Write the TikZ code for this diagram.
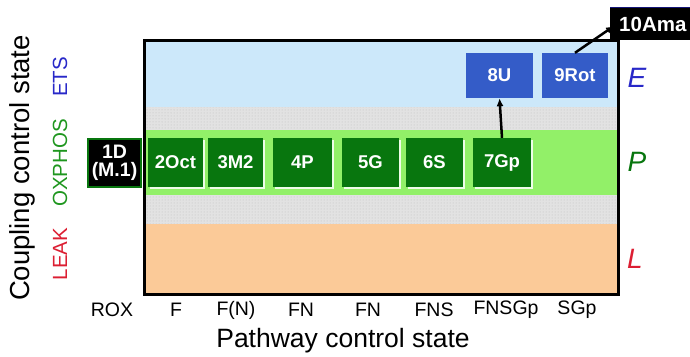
\documentclass[tikz,border=0pt]{standalone}
\usepackage{fontspec}
\setmainfont{Liberation Sans}
\usetikzlibrary{arrows.meta,shadows,patterns,calc}
\definecolor{bandblue}{RGB}{204,232,250}
\definecolor{bandgreen}{RGB}{146,240,104}
\definecolor{bandorange}{RGB}{251,202,152}
\definecolor{bandgray}{RGB}{226,226,226}
\definecolor{boxgreen}{RGB}{8,118,14}
\definecolor{boxblue}{RGB}{52,92,200}
\definecolor{etsblue}{RGB}{40,40,200}
\definecolor{oxgreen}{RGB}{30,150,30}
\definecolor{leakred}{RGB}{220,30,50}
\definecolor{navyedge}{RGB}{20,20,120}
\tikzset{
  gbox/.style={rectangle, fill=boxgreen, text=white, minimum height=49pt, inner sep=0pt,
    font=\fontsize{18.5}{18.5}\selectfont\bfseries,
    drop shadow={shadow xshift=1.5pt, shadow yshift=-1.5pt, fill=white, opacity=0.85}},
  bbox/.style={rectangle, fill=boxblue, text=white, minimum height=45pt, inner sep=0pt,
    font=\fontsize{18.5}{18.5}\selectfont\bfseries},
  blabel/.style={font=\fontsize{19.5}{19.5}\selectfont, anchor=center},
  stlabel/.style={font=\fontsize{28}{28}\selectfont\itshape, anchor=center},
  sidelabel/.style={font=\fontsize{20.5}{20.5}\selectfont, rotate=90, anchor=center},
  conn/.style={line width=2.5pt, -{Latex[length=8pt,width=7pt]}}
}
\begin{document}
\begin{tikzpicture}[x=1pt,y=-1pt]
\useasboundingbox (0,0) rectangle (690,356);
% bands
\fill[bandblue] (144,40) rectangle (618,107);
\fill[bandgray] (144,107) rectangle (618,130);
\fill[pattern=dots, pattern color=black!25] (144,107) rectangle (618,130);
\fill[bandgreen] (144,130) rectangle (618,195);
\fill[bandgray] (144,195) rectangle (618,224);
\fill[pattern=dots, pattern color=black!25] (144,195) rectangle (618,224);
\fill[bandorange] (144,224) rectangle (618,294);
\draw[line width=3pt] (144,40) rectangle (618,294);
% green boxes
\node[gbox, minimum width=55pt] (n2) at (175.5,162.5) {2Oct};
\node[gbox, minimum width=55pt] (n3) at (235.5,162.5) {3M2};
\node[gbox, minimum width=59pt] (n4) at (302.5,162.5) {4P};
\node[gbox, minimum width=57pt] (n5) at (370.5,162.5) {5G};
\node[gbox, minimum width=57pt] (n6) at (434.5,162.5) {6S};
\node[gbox, minimum width=58pt] (n7) at (502,162.5) {7Gp};
% blue boxes
\node[bbox, minimum width=67pt] (n8) at (499.5,75.5) {8U};
\node[bbox, minimum width=66pt] (n9) at (575,75.5) {9Rot};
% 1D
\node[rectangle, fill=black, draw=boxgreen, line width=2pt, text=white, minimum width=53pt,
  minimum height=48pt, inner sep=0pt, align=center, font=\fontsize{19.5}{18.5}\selectfont\bfseries]
  (n1) at (114.5,163) {1D\\(M.1)};
% 10Ama
\node[rectangle, fill=black, text=white, anchor=west, minimum width=100pt, minimum height=32pt,
  inner sep=0pt, text width=100pt, align=left, font=\fontsize{20.5}{20.5}\selectfont\bfseries]
  (n10) at (610,24) {\hspace*{9pt}10Ama};
\draw[navyedge, line width=1.2pt] (n10.north west) -- (n10.north east);
% arrows
\draw[conn] (n7.north) -- (n8.south);
\draw[conn] (n9.north) -- ($(n10.west)+(4,2)$);
% state labels
\node[stlabel, text=etsblue] (lE) at (637,78) {E};
\node[stlabel, text=boxgreen] (lP) at (637,162) {P};
\node[stlabel, text=leakred] (lL) at (635,259) {L};
% side labels
\node[font=\fontsize{27.5}{27.5}\selectfont, rotate=90] (ycap) at (22,168) {Coupling control state};
\node[sidelabel, text=etsblue] (ets) at (60,77) {ETS};
\node[sidelabel, text=oxgreen] (ox) at (60,163) {OXPHOS};
\node[sidelabel, text=leakred] (leak) at (60,254) {LEAK};
% bottom labels
\node[blabel] (b1) at (112,310) {ROX};
\node[blabel] (b2) at (176,310) {F};
\node[blabel] (b3) at (236,310) {F(N)};
\node[blabel] (b4) at (301,310) {FN};
\node[blabel] (b5) at (368,310) {FN};
\node[blabel] (b6) at (434,310) {FNS};
\node[blabel] (b7) at (506,310) {FNSGp};
\node[blabel] (b8) at (577,310) {SGp};
\node[font=\fontsize{26.5}{26.5}\selectfont] (xcap) at (343,341) {Pathway control state};
\end{tikzpicture}
\end{document}
